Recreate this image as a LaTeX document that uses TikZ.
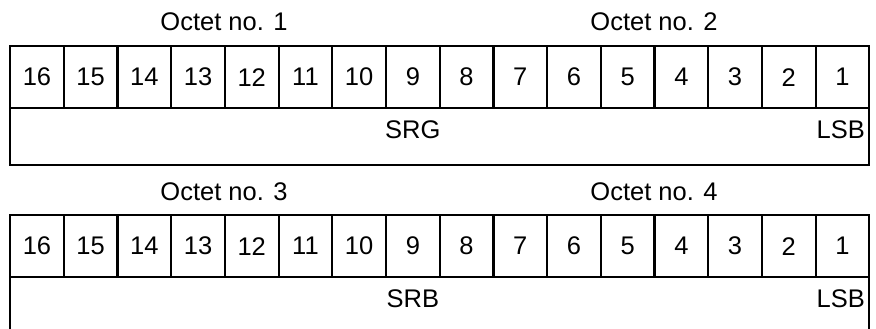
\documentclass[tikz,border=0pt]{standalone}
\usepackage{fontspec}
\setmainfont{Liberation Sans}
\usetikzlibrary{positioning}

\tikzset{
  bitcell/.style={draw, minimum width=53.7pt, minimum height=62pt, inner sep=0pt, anchor=north west},
  regrow/.style={draw, minimum width=859.2pt, minimum height=57pt, inner sep=0pt, anchor=north west},
  label/.style={anchor=base, inner sep=0pt}
}

\begin{document}
\begin{tikzpicture}[x=1pt, y=-1pt, every node/.style={font=\fontsize{25.5}{30}\selectfont}, line width=2.2pt]
	\useasboundingbox (0,0) rectangle (876,329);
	\clip (0,0) rectangle (876,329);
	\foreach \t/\dy/\octa/\octb/\reg in {1/0/1/2/SRG, 2/169/3/4/SRB} {
		\begin{scope}[yshift=-\dy pt]
			\node[label] (oct\octa) at (224,31) {Octet no. \octa};
			\node[label] (oct\octb) at (654,31) {Octet no. \octb};
			\foreach \i in {1,...,16} {
				\pgfmathtruncatemacro{\bit}{17-\i}
				\node[bitcell] (bit\t-\bit) at ({9+(\i-1)*53.7},45) {\bit};
			}
			\node[regrow] (reg\t) at (9,107) {};
			\node[label] (name\t) at (bit\t-9.center |- 0,138) {\reg};
			\node[label, anchor=base east] (lsb\t) at (866,138) {LSB};
		\end{scope}
	}
\end{tikzpicture}
\end{document}
